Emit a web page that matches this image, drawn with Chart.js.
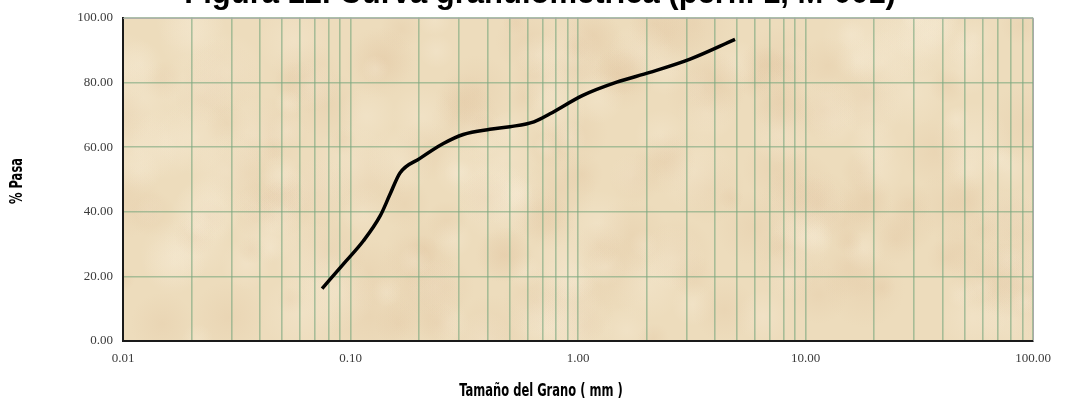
<!DOCTYPE html>
<html>
<head>
<meta charset="utf-8">
<script src="https://cdn.jsdelivr.net/npm/chart.js@4.4.1/dist/chart.umd.min.js"></script>
<style>
  html, body { margin: 0; padding: 0; background: #ffffff; }
  #wrap { position: relative; width: 1070px; height: 411px; overflow: hidden; }
  canvas { display: block; }
</style>
</head>
<body>
<div id="wrap"><canvas id="c" width="1070" height="411"></canvas></div>
<script>
// ---- data ----
const grainSizeMm = [0.075, 0.093, 0.114, 0.135, 0.149, 0.165, 0.202, 0.256, 0.313, 0.41, 0.502, 0.64, 0.753, 1.05, 1.48, 2.07, 3.11, 4.9];
const percentPassing = [16.2, 23.8, 31.0, 38.7, 45.3, 52.0, 56.5, 61.1, 63.9, 65.5, 66.3, 67.8, 70.3, 76.0, 80.1, 83.1, 87.2, 93.3];
const xDecadeTicks = [0.01, 0.1, 1, 10, 100];
const yTicks = [0, 20, 40, 60, 80, 100];
const chartTitle = 'Figura 12. Curva granulométrica (perfil 1, M-001)';
const xTitle = 'Tamaño del Grano ( mm )';
const yTitle = '% Pasa';

const points = grainSizeMm.map((x, i) => ({ x: x, y: percentPassing[i] }));
const titleFont = 'bold 16px "Liberation Sans Narrow", "DejaVu Sans Condensed", sans-serif';

function hash(n) { const s = Math.sin(n) * 43758.5453; return s - Math.floor(s); }

const backgroundPlugin = {
  id: 'paperBg',
  beforeDraw(chart) {
    const { ctx, chartArea: a } = chart;
    const w = a.right - a.left, h = a.bottom - a.top;
    ctx.save();
    ctx.fillStyle = '#eddcbc';
    ctx.fillRect(a.left, a.top, w, h);
    ctx.beginPath();
    ctx.rect(a.left, a.top, w, h);
    ctx.clip();
    // decorative sandy mottling
    for (let i = 0; i < 260; i++) {
      const cx = a.left + hash(i * 12.9898) * w;
      const cy = a.top + hash(i * 78.233 + 1.7) * h;
      const r = 12 + hash(i * 3.17) * 30;
      const dark = hash(i * 5.31) < 0.5;
      const g = ctx.createRadialGradient(cx, cy, 0, cx, cy, r);
      g.addColorStop(0, dark ? 'rgba(222,190,152,0.22)' : 'rgba(248,238,218,0.30)');
      g.addColorStop(1, dark ? 'rgba(222,190,152,0)' : 'rgba(248,238,218,0)');
      ctx.fillStyle = g;
      ctx.fillRect(cx - r, cy - r, 2 * r, 2 * r);
    }
    ctx.restore();
  },
  afterDatasetsDraw(chart) {
    const { ctx, chartArea: a } = chart;
    ctx.save();
    ctx.strokeStyle = '#a9a9a9';
    ctx.lineWidth = 1;
    ctx.beginPath();
    ctx.moveTo(a.left, a.top + 0.5);
    ctx.lineTo(a.right + 0.5, a.top + 0.5);
    ctx.lineTo(a.right + 0.5, a.bottom);
    ctx.stroke();
    ctx.restore();
  },
  afterDraw(chart) {
    const { ctx } = chart;
    ctx.save();
    ctx.font = 'bold 31px "Liberation Sans", Arial, sans-serif';
    ctx.fillStyle = '#000';
    ctx.textAlign = 'center';
    ctx.textBaseline = 'alphabetic';
    ctx.fillText(chartTitle, 540, 3);
    ctx.restore();

    // x-axis title
    ctx.save();
    ctx.font = titleFont;
    ctx.fillStyle = '#000';
    ctx.textAlign = 'center';
    ctx.textBaseline = 'middle';
    ctx.translate(541, 392);
    ctx.scale(0.8, 1.05);
    ctx.fillText(xTitle, 0, 0);
    ctx.restore();

    // y-axis title
    ctx.save();
    ctx.font = titleFont;
    ctx.fillStyle = '#000';
    ctx.textAlign = 'center';
    ctx.textBaseline = 'middle';
    ctx.translate(18, 181);
    ctx.rotate(-Math.PI / 2);
    ctx.scale(0.8, 1.05);
    ctx.fillText(yTitle, 0, 0);
    ctx.restore();
  }
};

const gridColor = 'rgba(125,168,128,0.62)';
const tickFont = { family: '"Liberation Serif", "Times New Roman", serif', size: 13 };

new Chart(document.getElementById('c'), {
  type: 'line',
  data: {
    datasets: [{
      data: points,
      borderColor: '#000000',
      borderWidth: 3.5,
      pointRadius: 0,
      cubicInterpolationMode: 'monotone',
      fill: false
    }]
  },
  options: {
    responsive: false,
    animation: false,
    layout: { padding: { top: 15, right: 37, left: 0, bottom: 0 } },
    plugins: { legend: { display: false }, tooltip: { enabled: false }, title: { display: false } },
    scales: {
      x: {
        type: 'logarithmic',
        min: 0.01,
        max: 100,
        afterFit(s) { s.height = 70; },
        afterBuildTicks(s) {
          const t = [];
          for (let e = -2; e <= 1; e++) {
            for (let m = 1; m <= 9; m++) t.push({ value: m * Math.pow(10, e) });
          }
          t.push({ value: 100 });
          s.ticks = t;
        },
        grid: { color: gridColor, lineWidth: 1.6, drawTicks: false },
        border: { color: '#1a1a1a', width: 2 },
        ticks: {
          autoSkip: false,
          maxRotation: 0,
          padding: 10,
          color: '#3a3a3a',
          font: tickFont,
          callback(v) {
            const isDecade = xDecadeTicks.some(d => Math.abs(d - v) < d * 1e-6);
            return isDecade ? Number(v).toFixed(2) : '';
          }
        },
        title: { display: false }
      },
      y: {
        type: 'linear',
        min: 0,
        max: 100,
        afterFit(s) { s.width = 123; },
        afterBuildTicks(s) { s.ticks = yTicks.map(v => ({ value: v })); },
        grid: { color: gridColor, lineWidth: 1.6, drawTicks: false },
        border: { color: '#1a1a1a', width: 2 },
        ticks: {
          padding: 10,
          color: '#3a3a3a',
          font: tickFont,
          callback(v) { return Number(v).toFixed(2); }
        },
        title: { display: false }
      }
    }
  },
  plugins: [backgroundPlugin]
});
</script>
</body>
</html>
